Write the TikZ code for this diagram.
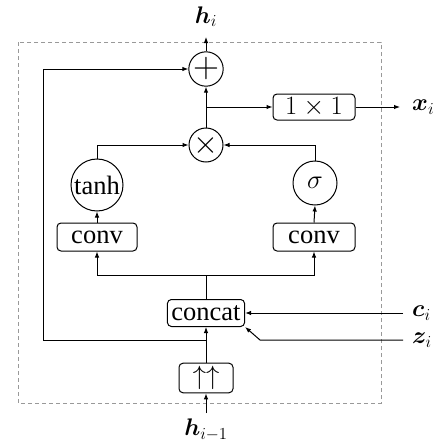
\RequirePackage{fix-cm}
\documentclass[tikz,border=0pt]{standalone}
\usepackage{amsmath,amssymb}
\usepackage{bm}
\usepackage{fontspec}
\setmainfont{Liberation Serif}
\usetikzlibrary{arrows.meta}
\begin{document}
\begin{tikzpicture}[x=1pt,y=1pt,
  every node/.style={font=\fontsize{26.5}{30}\selectfont},
  line/.style={line width=1pt},
  arr/.style={line width=1pt,-{Latex[length=6pt,width=4.5pt]}},
  opcirc/.style={draw,line width=1pt,circle,inner sep=0pt,minimum size=34pt},
  fcirc/.style={draw,line width=1pt,circle,inner sep=0pt,minimum size=44pt},
  rbox/.style={draw,line width=1pt,rectangle,rounded corners=4pt,inner xsep=4pt,inner ysep=3pt},
  lbl/.style={font=\fontsize{24}{28}\selectfont,inner sep=0pt}]
\useasboundingbox (0,0) rectangle (438,-447);
% dashed frame
\draw[gray!80,line width=0.8pt,dash pattern=on 4pt off 3pt] (18,-42) rectangle (381,-403);
% nodes
\node[opcirc] (plus) at (206,-69) {\fontsize{36}{36}\selectfont$+$};
\node[opcirc] (times) at (206,-145) {\fontsize{32}{32}\selectfont$\times$};
\node[rbox,text width=74pt,align=center,minimum height=26pt] (one) at (314,-107) {$1\times1$};
\node[fcirc,minimum size=52pt] (tanh) at (97,-185) {tanh};
\node[fcirc] (sig) at (315,-183) {$\sigma$};
\node[rbox,text width=72pt,align=center,minimum height=28pt] (convl) at (97,-237) {conv};
\node[rbox,text width=74pt,align=center,minimum height=28pt] (convr) at (314,-237) {conv};
\node[rbox,inner xsep=4pt,minimum height=27pt] (concat) at (206,-313) {concat};
\node[rbox,text width=46pt,align=center,minimum height=29pt] (up) at (206,-378) {$\uparrow\uparrow$};
% labels
\node[lbl,anchor=south] (hi) at (206,-27) {$\bm{h}_i$};
\node[lbl,anchor=north] (hprev) at (206,-419) {$\bm{h}_{i-1}$};
\node[lbl,anchor=west] (xi) at (412,-107) {$\bm{x}_i$};
\node[lbl,anchor=west] (ci) at (412,-313) {$\bm{c}_i$};
\node[lbl,anchor=west] (zi) at (412,-340) {$\bm{z}_i$};
% coordinates
\coordinate (hitip) at (206,-37);
\coordinate (xitip) at (400,-107);
\coordinate (hpt) at (206,-413);
\coordinate (cst) at (403,-313);
\coordinate (zst) at (403,-340);
\coordinate (zbend) at (260,-340);
\coordinate (br) at (206,-107);
\coordinate (sk) at (206,-340);
\coordinate (skl) at (43,-340);
\coordinate (sku) at (43,-69);
\coordinate (split) at (206,-275);
% connectors
\draw[arr] (plus.north) -- (hitip);
\draw[arr] (times.north) -- (plus.south);
\draw[arr] (br) -- (one.west);
\draw[arr] (one.east) -- (xitip);
\draw[arr] (tanh.north) |- (times.west);
\draw[arr] (sig.north) |- (times.east);
\draw[arr] (convl.north) -- (tanh.south);
\draw[arr] (convr.north) -- (sig.south);
\draw[line] (concat.north) -- (split);
\draw[arr] (split) -| (convl.south);
\draw[arr] (split) -| (convr.south);
\draw[arr] (cst) -- (concat.east);
\draw[arr] (zst) -- (zbend) -- (concat.south east);
\draw[arr] (up.north) -- (concat.south);
\draw[arr] (sk) -- (skl) -- (sku) -- (plus.west);
\draw[arr] (hpt) -- (up.south);
\end{tikzpicture}
\end{document}
